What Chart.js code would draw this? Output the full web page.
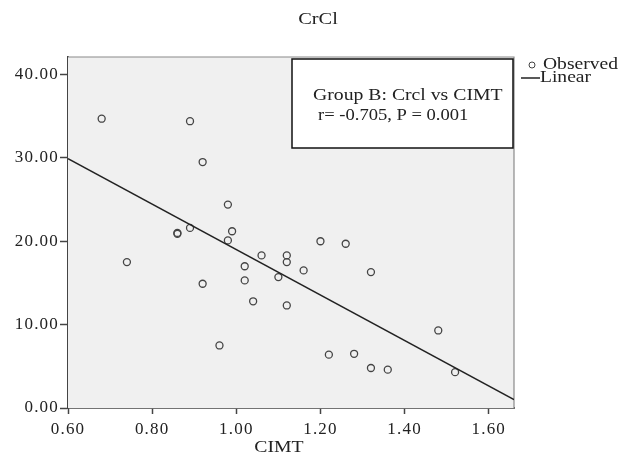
<!DOCTYPE html>
<html>
<head>
<meta charset="utf-8">
<script src="https://cdn.jsdelivr.net/npm/chart.js@4/dist/chart.umd.min.js"></script>
<style>
  html, body { margin: 0; padding: 0; background: #fff; }
  #wrap { width: 632px; height: 455px; }
</style>
</head>
<body>
<div id="wrap"><canvas id="graph" width="632" height="455"></canvas></div>
<script>
// observed points (CIMT vs CrCl)
const cimt = [0.68, 0.89, 0.92, 0.98, 0.86, 0.86, 0.89, 0.99, 0.98, 0.74,
              1.06, 1.12, 1.12, 1.02, 0.92, 1.02, 1.04, 1.10, 1.12, 1.16,
              0.96, 1.20, 1.26, 1.32, 1.48, 1.22, 1.28, 1.32, 1.36, 1.52];
const crcl = [34.7, 34.4, 29.5, 24.4, 20.9, 21.0, 21.6, 21.2, 20.1, 17.5,
              18.3, 18.3, 17.5, 17.0, 14.9, 15.3, 12.8, 15.7, 12.3, 16.5,
              7.5, 20.0, 19.7, 16.3, 9.3, 6.4, 6.5, 4.8, 4.6, 4.3];
// fit line end points
const lineX = [0.60, 1.66];
const lineY = [29.9, 1.0];
// ticks
const xTicks = [0.60, 0.80, 1.00, 1.20, 1.40, 1.60];
const yTicks = [0, 10, 20, 30, 40];

const serif = '"Liberation Serif", "DejaVu Serif", serif';
const ink = '#222';

var pts = cimt.map(function(x, i){ return {x: x, y: crcl[i]}; });
var fit = lineX.map(function(x, i){ return {x: x, y: lineY[i]}; });

// the source text looks a bit stretched sideways
function wideText(c, txt, x, y, sx){
    c.save();
    c.translate(x, y);
    c.scale(sx, 1);
    c.fillText(txt, 0, 0);
    c.restore();
}

// plot background, frame, title, annotation box and legend
const decor = {
    id: 'decor',
    beforeDraw: function(chart){
        // wider letters for the tick labels too
        chart.ctx.letterSpacing = '1.2px';
    },
    beforeDatasetsDraw: function(chart){
        var c = chart.ctx, a = chart.chartArea;
        c.save();
        c.fillStyle = '#f0f0f0';
        c.fillRect(a.left, a.top, a.right - a.left, a.bottom - a.top);
        c.strokeStyle = '#8a8a8a';
        c.lineWidth = 1.2;
        c.beginPath();
        c.moveTo(a.left, a.top);
        c.lineTo(a.right, a.top);
        c.lineTo(a.right, a.bottom);
        c.stroke();
        c.restore();
    },
    afterDraw: function(chart){
        var c = chart.ctx;
        c.save();
        c.letterSpacing = '0px';
        c.fillStyle = ink;
        c.textBaseline = 'middle';
        // title
        c.font = '17px ' + serif;
        c.textAlign = 'center';
        wideText(c, 'CrCl', 318, 20, 1.2);
        // axis title
        c.font = '17px ' + serif;
        wideText(c, 'CIMT', 279, 448, 1.16);
        // annotation box
        c.fillStyle = '#fff';
        c.fillRect(292, 59, 221, 89);
        c.strokeStyle = '#111';
        c.lineWidth = 1.5;
        c.strokeRect(292, 59, 221, 89);
        c.fillStyle = ink;
        c.textAlign = 'left';
        c.font = '17px ' + serif;
        wideText(c, 'Group B: Crcl vs CIMT', 313, 96, 1.16);
        c.font = '16px ' + serif;
        wideText(c, 'r= -0.705, P = 0.001', 318, 116, 1.16);
        // legend
        c.strokeStyle = '#444';
        c.lineWidth = 1;
        c.beginPath();
        c.arc(532, 65, 3, 0, Math.PI * 2);
        c.stroke();
        c.font = '17px ' + serif;
        wideText(c, 'Observed', 543, 65, 1.15);
        c.strokeStyle = '#222';
        c.lineWidth = 1.5;
        c.beginPath();
        c.moveTo(521, 78);
        c.lineTo(540, 78);
        c.stroke();
        wideText(c, 'Linear', 540, 78, 1.15);
        c.restore();
    }
};

var ctx = document.getElementById('graph').getContext('2d');
var graph = new Chart(ctx, {
    type: 'scatter',
    data: {
        datasets: [{
            label: 'Observed',
            data: pts,
            showLine: false,
            pointRadius: 3.5,
            pointBorderWidth: 1.3,
            pointBorderColor: '#444',
            pointBackgroundColor: 'rgba(0,0,0,0)',
            order: 2
        }, {
            label: 'Linear',
            data: fit,
            showLine: true,
            pointRadius: 0,
            borderColor: '#222',
            borderWidth: 1.5,
            order: 1
        }]
    },
    options: {
        responsive: false,
        animation: false,
        layout: { padding: { top: 57, right: 118, left: 0, bottom: 0 } },
        plugins: {
            legend: { display: false },
            title: { display: false },
            tooltip: { enabled: false }
        },
        scales: {
            x: {
                type: 'linear',
                min: 0.60,
                max: 1.66,
                afterBuildTicks: function(scale){
                    scale.ticks = xTicks.map(function(v){ return {value: v}; });
                },
                afterFit: function(scale){ scale.height = 47; },
                grid: { drawOnChartArea: false, drawTicks: true, tickLength: 6, tickColor: '#444', tickWidth: 1.5 },
                border: { display: true, color: '#444', width: 1.8 },
                ticks: {
                    color: ink,
                    padding: 5,
                    maxRotation: 0,
                    font: { family: serif, size: 17 },
                    callback: function(v){ return Number(v).toFixed(2); }
                }
            },
            y: {
                type: 'linear',
                min: 0,
                max: 42.1,
                afterBuildTicks: function(scale){
                    scale.ticks = yTicks.map(function(v){ return {value: v}; });
                },
                afterFit: function(scale){ scale.width = 68; },
                grid: { drawOnChartArea: false, drawTicks: true, tickLength: 8, tickColor: '#444', tickWidth: 1.5 },
                border: { display: true, color: '#444', width: 1.8 },
                ticks: {
                    color: ink,
                    padding: 1,
                    font: { family: serif, size: 17 },
                    callback: function(v){ return Number(v).toFixed(2); }
                }
            }
        }
    },
    plugins: [decor]
});
</script>
</body>
</html>
